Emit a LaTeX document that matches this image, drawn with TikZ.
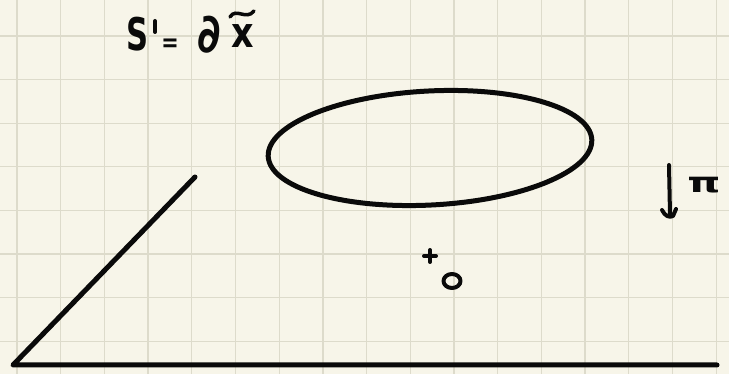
\documentclass[tikz,border=0pt]{standalone}
\usepackage{fontspec}
\setmainfont{DejaVu Sans}
\usetikzlibrary{shapes.geometric}
\definecolor{paper}{HTML}{F7F5E9}
\definecolor{gridc}{HTML}{DDDBCB}
\definecolor{ink}{HTML}{0A0A0A}
\begin{document}
\begin{tikzpicture}[x=1pt,y=-1pt,
  pen/.style={draw=ink,line width=5pt,line cap=round,line join=round},
  thinpen/.style={draw=ink,line width=4pt,line cap=round,line join=round},
  glyph/.style={text=ink,inner sep=0pt,anchor=base}]
\fill[paper] (0,0) rectangle (729,374);
\useasboundingbox (0,0) rectangle (729,374);
% grid
\foreach \i in {0,...,16} {\draw[gridc,line width=1.3pt] ({17+43.7*\i},0) -- ({17+43.7*\i},374);}
\foreach \j in {0,...,7} {\draw[gridc,line width=1.3pt] (0,{36+43.6*\j}) -- (729,{36+43.6*\j});}
% label  S' = dx~
\node[glyph,xscale=0.68,font=\bfseries\fontsize{45}{45}\selectfont] (s) at (138,51) {S};
\coordinate (p1) at (155,21);
\coordinate (p2) at (155,32);
\draw[draw=ink,line width=4pt,line cap=round] (p1) -- (p2);
\node[glyph,xscale=0.8,font=\bfseries\fontsize{26}{26}\selectfont] (eq) at (170,52) {=};
\node[glyph,xscale=0.8,font=\bfseries\fontsize{54}{54}\selectfont] (d) at (209,53) {∂};
\node[glyph,xscale=0.83,font=\bfseries\fontsize{42}{42}\selectfont] (x) at (243,48) {x};
\coordinate (t1) at (230,17);
\coordinate (t2) at (254,11);
\draw[draw=ink,line width=3.5pt,line cap=round] (t1) .. controls (236,7) and (246,21) .. (t2);
% axes
\coordinate (corner) at (13,365);
\coordinate (diagend) at (195,177);
\coordinate (baseend) at (717,365);
\draw[pen] (diagend) -- (corner) -- (baseend);
% ellipse
\node[pen,ellipse,draw,minimum width=324pt,minimum height=114pt,rotate=3,inner sep=0pt] (ell) at (430,148) {};
% arrow pi
\coordinate (atop) at (669,165);
\coordinate (abot) at (670,214);
\draw[thinpen] (atop) -- (abot);
\draw[thinpen] (662,210) .. controls (665,216) and (669,218) .. (673,216) -- (676,209);
\node[glyph,xscale=1.5,font=\bfseries\fontsize{28}{28}\selectfont] (pi) at (704,193) {π};
% plus and o
\coordinate (plus) at (430,256);
\draw[thinpen] ([xshift=-6pt]plus) -- ([xshift=6pt]plus);
\draw[thinpen] ([yshift=-6pt]plus) -- ([yshift=6pt]plus);
\coordinate (o) at (452,281);
\draw[thinpen] (o) ellipse (8.5pt and 7pt);
\end{tikzpicture}
\end{document}
